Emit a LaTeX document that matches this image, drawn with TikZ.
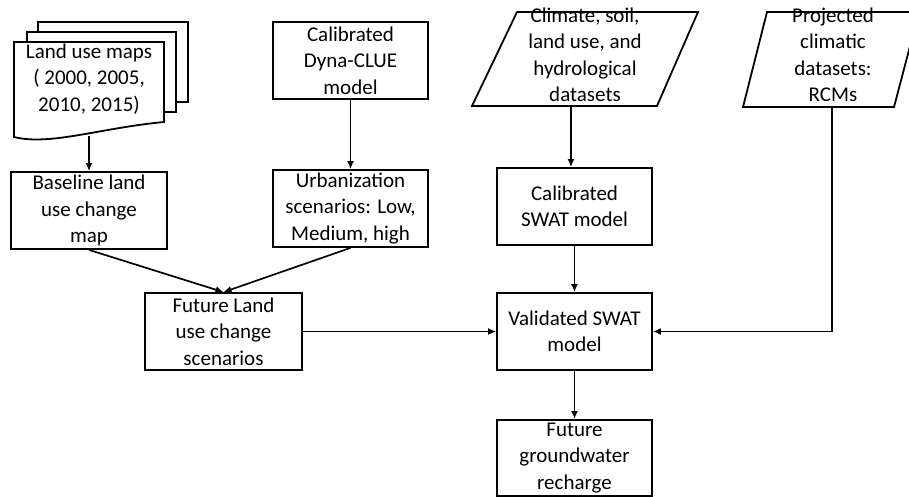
\documentclass[tikz,border=0pt]{standalone}
\usepackage{fontspec}
\setmainfont{Carlito}
\usetikzlibrary{arrows.meta}
\begin{document}
\begin{tikzpicture}[x=1pt,y=-1pt,line width=1.8pt,
  box/.style={draw,fill=white,minimum width=155pt,minimum height=77pt,align=center,inner sep=0pt,
    font=\fontsize{21}{26.5}\selectfont},
  txt/.style={align=center,inner sep=0pt,font=\fontsize{21}{26.5}\selectfont},
  arr/.style={-{Latex[length=8pt,width=7pt]},line width=1.7pt}]
\useasboundingbox (0,0) rectangle (909,496);
% document stack
\draw[fill=white] (38,22) rectangle (188,102);
\draw[fill=white] (27,32) rectangle (176,112);
\draw[fill=white] (14,42) -- (164,42) -- (164,122) .. controls (100,128) and (50,146) .. (14,137) -- cycle;
\node[txt] (maps) at (89,79) {Land use maps\\( 2000, 2005,\\2010, 2015)};
\coordinate (maps-b) at (89,136);
% parallelograms
\draw (472,106) -- (517,12) -- (698,12) -- (657,106) -- cycle;
\node[txt] (clim) at (585,55) {Climate, soil,\\land use, and\\hydrological\\datasets};
\coordinate (clim-b) at (571,106);
\draw (743,107) -- (767,12) -- (919,12) -- (894,107) -- cycle;
\node[txt] (proj) at (833,55) {Projected\\climatic\\datasets:\\RCMs};
\coordinate (proj-b) at (832,107);
\coordinate (proj-c) at (832,331.5);
% boxes
\node[box] (dyna) at (350.5,60.5) {Calibrated\\Dyna-CLUE\\model};
\node[box,minimum width=156pt] (base) at (89,210.5) {Baseline land\\use change\\map};
\node[box] (urb) at (350.5,208.5) {Urbanization\\scenarios: Low,\\Medium, high};
\node[box,minimum width=157pt] (fut) at (223.5,331.5) {Future Land\\use change\\scenarios};
\node[box] (cswat) at (574.5,206.5) {Calibrated\\SWAT model};
\node[box] (vswat) at (574.5,331.5) {Validated SWAT\\model};
\node[box,minimum height=76pt] (gw) at (574.5,458) {Future\\groundwater\\recharge};
% connectors
\draw[arr] (maps-b) -- (base.north);
\draw[arr] (dyna.south) -- (urb.north);
\draw[arr] (base.south) -- (fut.north);
\draw[arr] (urb.south) -- (fut.north);
\draw[arr] (clim-b) -- (clim-b |- cswat.north);
\draw[arr] (cswat.south) -- (vswat.north);
\draw[arr] (fut.east) -- (vswat.west);
\draw[arr] (proj-b) -- (proj-c) -- (vswat.east);
\draw[arr] (vswat.south) -- (gw.north);
\end{tikzpicture}
\end{document}
